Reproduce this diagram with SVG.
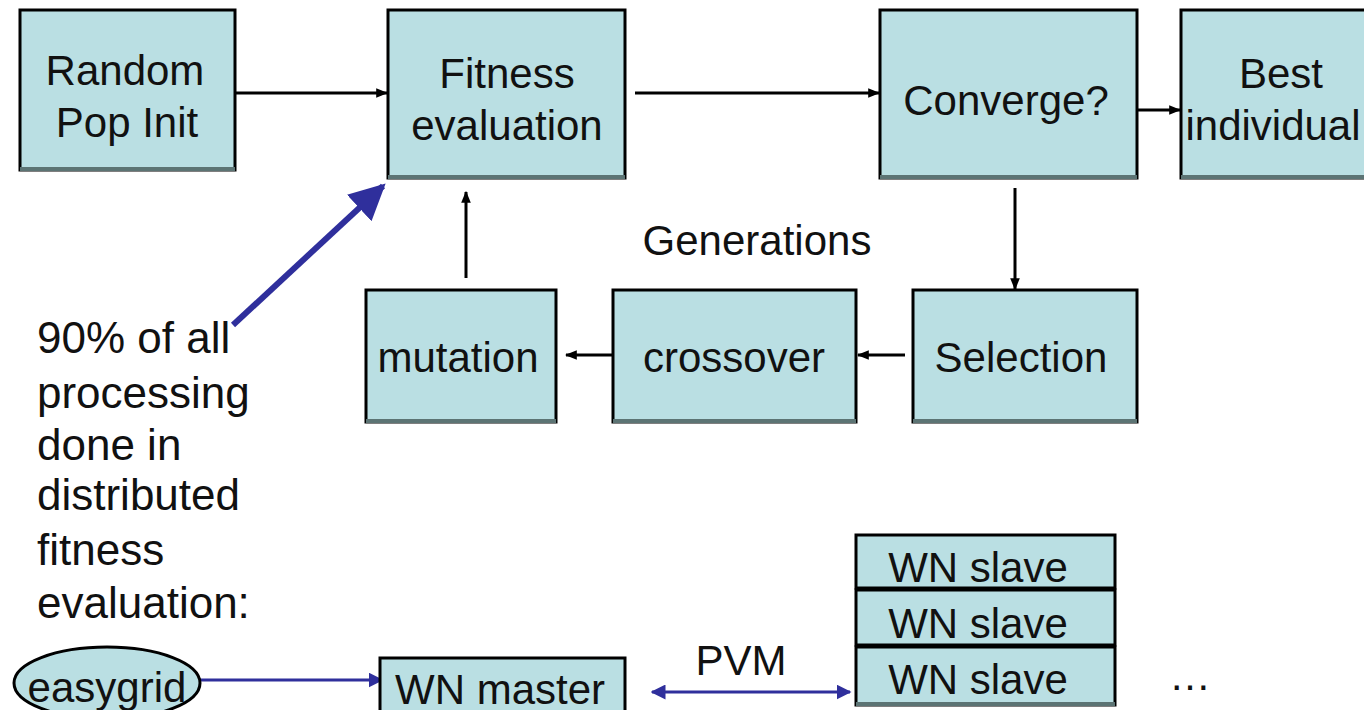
<svg xmlns="http://www.w3.org/2000/svg" width="1364" height="710" viewBox="0 0 1364 710">
  <style>
    .box { fill: #badfe3; stroke: #000; stroke-width: 3; }
    .shade { stroke: #5c7474; stroke-width: 4; fill: none; }
    .lbl { font-family: "Liberation Sans", Arial, sans-serif; font-size: 42px; fill: #111; text-anchor: middle; }
    .note { font-family: "Liberation Sans", Arial, sans-serif; font-size: 44px; fill: #111; }
    .flow { stroke: #000; stroke-width: 3; fill: none; marker-end: url(#ah); }
    .blue { stroke: #2f2f9c; fill: none; }
  </style>
  <defs>
    <marker id="ah" viewBox="0 0 10 10" refX="9" refY="5" markerWidth="4" markerHeight="4" orient="auto" markerUnits="strokeWidth">
      <path d="M0,1 L10,5 L0,9 z" fill="#000"/>
    </marker>
    <marker id="bh" viewBox="0 0 10 10" refX="9" refY="5" markerWidth="5" markerHeight="5" orient="auto-start-reverse" markerUnits="strokeWidth">
      <path d="M0,0 L10,5 L0,10 z" fill="#2f2f9c"/>
    </marker>
    <marker id="bigh" viewBox="0 0 10 10" refX="9" refY="5" markerWidth="6" markerHeight="6" orient="auto" markerUnits="strokeWidth">
      <path d="M0,0 L10,5 L0,10 z" fill="#2f2f9c"/>
    </marker>
  </defs>

  <!-- connectors -->
  <g id="connectors">
    <line class="flow" x1="236" y1="93" x2="387" y2="93"/>
    <line class="flow" x1="635" y1="93" x2="879" y2="93"/>
    <line class="flow" x1="1138" y1="110" x2="1180" y2="110"/>
    <line class="flow" x1="1015" y1="188" x2="1015" y2="289"/>
    <line class="flow" x1="905" y1="355" x2="858" y2="355"/>
    <line class="flow" x1="613" y1="355" x2="566" y2="355"/>
    <line class="flow" x1="466" y1="278" x2="466" y2="192"/>
    <line class="blue" stroke-width="6" marker-end="url(#bigh)" x1="233" y1="325" x2="383" y2="186"/>
    <line class="blue" stroke-width="3" marker-end="url(#bh)" x1="200" y1="680" x2="382" y2="680"/>
    <line class="blue" stroke-width="3" marker-start="url(#bh)" marker-end="url(#bh)" x1="652" y1="692" x2="850" y2="692"/>
  </g>

  <g id="random-pop-init">
    <rect class="box" x="20" y="10" width="215" height="160"/>
    <line class="shade" x1="20" y1="169" x2="235" y2="169"/>
    <text class="lbl" x="125" y="85">Random</text>
    <text class="lbl" x="127" y="137">Pop Init</text>
  </g>

  <g id="fitness-evaluation">
    <rect class="box" x="388" y="10" width="237" height="168"/>
    <line class="shade" x1="388" y1="177" x2="625" y2="177"/>
    <text class="lbl" x="507" y="88">Fitness</text>
    <text class="lbl" x="507" y="140">evaluation</text>
  </g>

  <g id="converge">
    <rect class="box" x="880" y="10" width="257" height="168"/>
    <line class="shade" x1="880" y1="177" x2="1137" y2="177"/>
    <text class="lbl" x="1006" y="115">Converge?</text>
  </g>

  <g id="best-individual">
    <rect class="box" x="1181" y="10" width="200" height="168"/>
    <line class="shade" x1="1181" y1="177" x2="1381" y2="177"/>
    <text class="lbl" x="1281" y="88">Best</text>
    <text class="lbl" x="1273" y="140">individual</text>
  </g>

  <g id="selection">
    <rect class="box" x="913" y="290" width="224" height="132"/>
    <line class="shade" x1="913" y1="421" x2="1137" y2="421"/>
    <text class="lbl" x="1021" y="372">Selection</text>
  </g>

  <g id="crossover">
    <rect class="box" x="613" y="290" width="243" height="132"/>
    <line class="shade" x1="613" y1="421" x2="856" y2="421"/>
    <text class="lbl" x="734" y="372">crossover</text>
  </g>

  <g id="mutation">
    <rect class="box" x="366" y="290" width="190" height="132"/>
    <line class="shade" x1="366" y1="421" x2="556" y2="421"/>
    <text class="lbl" x="458" y="372">mutation</text>
  </g>

  <g id="generations-label">
    <text class="lbl" x="757" y="255">Generations</text>
  </g>

  <g id="processing-note">
    <text class="note" x="37" y="353">90% of all</text>
    <text class="note" x="37" y="408">processing</text>
    <text class="note" x="37" y="460">done in</text>
    <text class="note" x="37" y="510">distributed</text>
    <text class="note" x="37" y="565">fitness</text>
    <text class="note" x="37" y="618">evaluation:</text>
  </g>

  <g id="easygrid">
    <ellipse cx="107" cy="683" rx="93" ry="36" fill="#badfe3" stroke="#000" stroke-width="3"/>
    <text class="lbl" x="107" y="702">easygrid</text>
  </g>

  <g id="wn-master">
    <rect class="box" x="380" y="658" width="245" height="60"/>
    <text class="lbl" x="500" y="704">WN master</text>
  </g>

  <g id="pvm-label">
    <text class="lbl" x="741" y="675">PVM</text>
  </g>

  <g id="wn-slaves">
    <rect class="box" x="856" y="535" width="259" height="53"/>
    <rect class="box" x="856" y="590" width="259" height="55"/>
    <rect class="box" x="856" y="647" width="259" height="58"/>
    <line class="shade" x1="856" y1="704" x2="1115" y2="704"/>
    <text class="lbl" x="978" y="582">WN slave</text>
    <text class="lbl" x="978" y="638">WN slave</text>
    <text class="lbl" x="978" y="694">WN slave</text>
  </g>

  <g id="ellipsis">
    <text class="lbl" x="1190" y="690" font-size="30">…</text>
  </g>
</svg>
